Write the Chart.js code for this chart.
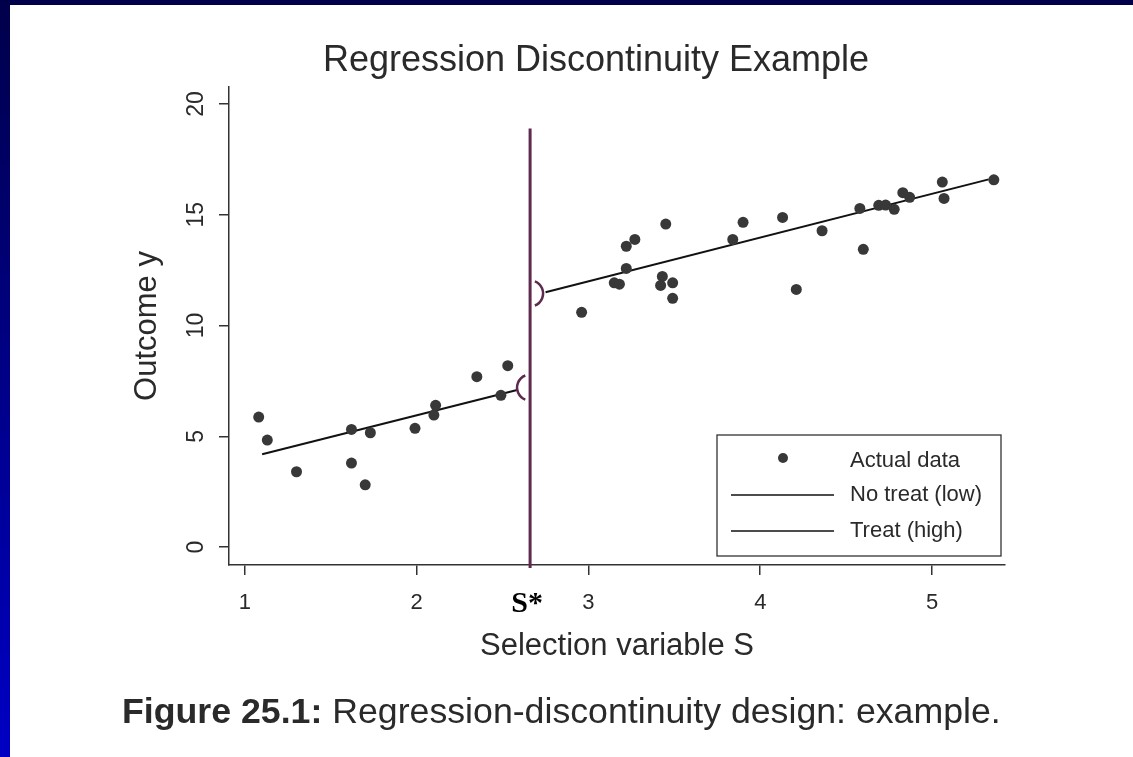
<!DOCTYPE html>
<html lang="en">
<head>
<meta charset="UTF-8">
<title>Regression Discontinuity Example</title>
<script src="https://cdn.jsdelivr.net/npm/chart.js"></script>
<style>
  html, body { margin: 0; padding: 0; }
  body {
    width: 1133px; height: 757px; overflow: hidden;
    background: linear-gradient(#00004a, #0000c4);
  }
  /* white "slide" sheet */
  #page { position: absolute; left: 10px; top: 5px; width: 1123px; height: 752px; background: #fff; }
  #rdChart { position: absolute; left: 0; top: 0; }
  #caption {
    position: absolute; left: 112px; top: 688px;
    font: 35.7px "Liberation Sans", Arial, sans-serif;
    line-height: 36px; color: #2a2a2a; white-space: nowrap;
  }
</style>
</head>
<body>
<div id="page">
  <canvas id="rdChart" width="1123" height="752"></canvas>
  <div id="caption"><b>Figure 25.1:</b> Regression-discontinuity design: example.</div>
</div>

<script>
// data
const lowS  = [1.08, 1.13, 1.30, 1.62, 1.73, 1.62, 1.70, 1.99, 2.10, 2.11, 2.35, 2.49, 2.53];
const lowY  = [5.87, 4.83, 3.40, 5.31, 5.16, 3.79, 2.81, 5.36, 5.96, 6.40, 7.69, 6.85, 8.19];
const highS = [2.96, 3.15, 3.18, 3.22, 3.22, 3.27, 3.45, 3.43, 3.42, 3.49, 3.49, 3.84, 3.90,
               4.13, 4.36, 4.21, 4.58, 4.60, 4.69, 4.73, 4.78, 4.83, 4.87, 5.06, 5.07, 5.36];
const highY = [10.60, 11.93, 11.87, 12.58, 13.58, 13.89, 14.58, 12.22, 11.81, 11.93, 11.23, 13.89, 14.66,
               14.88, 14.28, 11.63, 15.29, 13.44, 15.43, 15.44, 15.25, 16.00, 15.79, 16.48, 15.74, 16.58];

// fitted lines on each side of the cutoff
const lowFitS  = [1.10, 2.59];
const lowFitY  = [4.19, 7.10];
const highFitS = [2.75, 5.33];
const highFitY = [11.50, 16.60];

const cutoff = 2.66;
const cutoffY = [18.9, -0.95];
const lowAtCut = 7.2;
const highAtCut = 11.45;

const xTicks = [1, 2, 3, 4, 5];
const yTicks = [0, 5, 10, 15, 20];

const textColor = '#2a2a2a';
const axisColor = '#333';
const purple = '#5e2a4e';

Chart.defaults.font.family = '"Liberation Sans", Arial, sans-serif';
Chart.defaults.color = textColor;

// rotated y labels, cutoff arcs, S* label and the boxed legend
const rdExtras = {
  id: 'rdExtras',
  afterDraw(chart) {
    const { ctx, chartArea, scales: { x, y } } = chart;
    ctx.save();

    ctx.fillStyle = textColor;
    ctx.font = '23px "Liberation Sans", Arial, sans-serif';
    ctx.textAlign = 'center';
    ctx.textBaseline = 'middle';
    y.ticks.forEach(t => {
      ctx.save();
      ctx.translate(chartArea.left - 32, y.getPixelForValue(t.value));
      ctx.rotate(-Math.PI / 2);
      ctx.fillText(String(t.value), 0, 0);
      ctx.restore();
    });

    const cx = x.getPixelForValue(cutoff);
    ctx.strokeStyle = purple;
    ctx.lineWidth = 2.5;
    ctx.beginPath();
    ctx.arc(cx, y.getPixelForValue(lowAtCut), 13, 0.62 * Math.PI, 1.38 * Math.PI);
    ctx.stroke();
    ctx.beginPath();
    ctx.arc(cx, y.getPixelForValue(highAtCut), 13, -0.38 * Math.PI, 0.38 * Math.PI);
    ctx.stroke();

    ctx.fillStyle = '#000';
    ctx.font = 'bold 30px "Liberation Serif", "Times New Roman", serif';
    ctx.fillText('S*', cx - 3, chartArea.bottom + 39);

    // legend box
    const ds = chart.data.datasets;
    const bx = chartArea.right - 288, by = chartArea.bottom - 130, bw = 284, bh = 121;
    ctx.strokeStyle = axisColor;
    ctx.lineWidth = 1.3;
    ctx.strokeRect(bx, by, bw, bh);
    ctx.font = '22px "Liberation Sans", Arial, sans-serif';
    ctx.textAlign = 'left';
    const rows = [by + 26, by + 60, by + 96];
    ctx.fillStyle = ds[0].backgroundColor;
    ctx.beginPath();
    ctx.arc(bx + 66, rows[0] - 3, 5, 0, 2 * Math.PI);
    ctx.fill();
    ctx.strokeStyle = '#111';
    ctx.lineWidth = 1.5;
    [1, 2].forEach(i => {
      ctx.beginPath();
      ctx.moveTo(bx + 14, rows[i]);
      ctx.lineTo(bx + 117, rows[i]);
      ctx.stroke();
    });
    ctx.fillStyle = textColor;
    [0, 1, 2].forEach(i => ctx.fillText(ds[i].label, bx + 133, rows[i]));

    ctx.restore();
  }
};

const ctx = document.getElementById('rdChart').getContext('2d');
const rdChart = new Chart(ctx, {
  type: 'scatter',
  data: {
    datasets: [
      {
        label: 'Actual data',
        data: lowS.map((s, i) => ({ x: s, y: lowY[i] }))
          .concat(highS.map((s, i) => ({ x: s, y: highY[i] }))),
        backgroundColor: '#383838',
        borderWidth: 0,
        pointRadius: 5.5
      },
      {
        label: 'No treat (low)',
        data: lowFitS.map((s, i) => ({ x: s, y: lowFitY[i] })),
        showLine: true,
        borderColor: '#111',
        borderWidth: 2,
        pointRadius: 0
      },
      {
        label: 'Treat (high)',
        data: highFitS.map((s, i) => ({ x: s, y: highFitY[i] })),
        showLine: true,
        borderColor: '#111',
        borderWidth: 2,
        pointRadius: 0
      },
      {
        label: 'Cutoff',
        data: cutoffY.map(v => ({ x: cutoff, y: v })),
        showLine: true,
        borderColor: purple,
        borderWidth: 3,
        pointRadius: 0,
        clip: false
      }
    ]
  },
  options: {
    responsive: false,
    animation: false,
    // left padding shifts the centred title over the plot, as in the figure
    layout: { padding: { left: 177, right: 128, top: 0, bottom: 0 } },
    plugins: {
      legend: { display: false },
      tooltip: { enabled: false },
      title: {
        display: true,
        text: 'Regression Discontinuity Example',
        color: textColor,
        font: { size: 36, weight: 'normal' },
        padding: { top: 34, bottom: 4.8 }
      }
    },
    scales: {
      x: {
        type: 'linear',
        min: 0.907,
        max: 5.425,
        afterBuildTicks: s => { s.ticks = xTicks.map(v => ({ value: v })); },
        afterFit: s => { s.height = 192; },
        ticks: { font: { size: 22 }, color: textColor, padding: 15 },
        grid: { drawOnChartArea: false, tickLength: 10, color: axisColor, lineWidth: 1.5 },
        border: { color: axisColor, width: 1.5 },
        title: {
          display: true,
          text: 'Selection variable S',
          color: textColor,
          font: { size: 31 },
          padding: { top: 0, bottom: 92 }
        }
      },
      y: {
        type: 'linear',
        min: -0.81,
        max: 20.77,
        afterBuildTicks: s => { s.ticks = yTicks.map(v => ({ value: v })); },
        afterFit: s => { s.width = 42; },
        ticks: { display: false },
        grid: { drawOnChartArea: false, tickLength: 10, color: axisColor, lineWidth: 1.5 },
        border: { color: axisColor, width: 1.5 },
        title: {
          display: true,
          text: 'Outcome y',
          color: textColor,
          font: { size: 31 },
          padding: { top: -58.6, bottom: 0 }
        }
      }
    }
  },
  plugins: [rdExtras]
});
</script>
</body>
</html>
